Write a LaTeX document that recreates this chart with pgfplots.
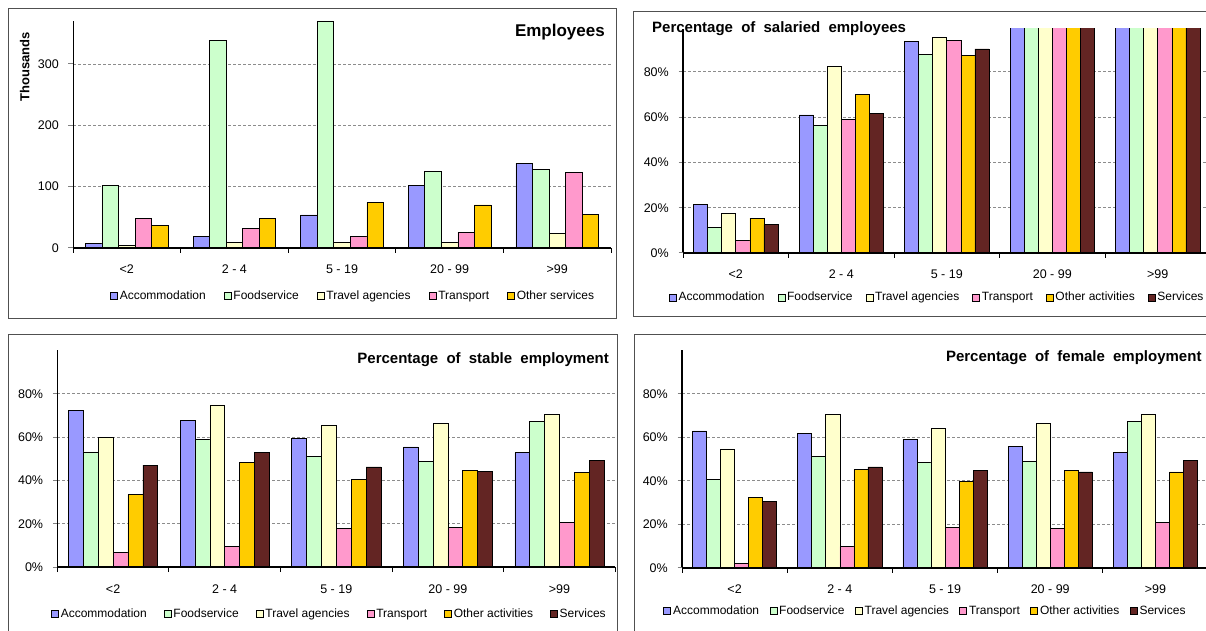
\documentclass[border=0pt]{standalone}
\usepackage{fontspec}
\setmainfont{Liberation Sans}
\usepackage{pgfplots}
\usepackage{pgfplotstable}
\pgfplotsset{compat=1.18}

\definecolor{cAcc}{HTML}{9999FF}
\definecolor{cFood}{HTML}{CCFFCC}
\definecolor{cTrav}{HTML}{FFFFCC}
\definecolor{cTran}{HTML}{FF99CC}
\definecolor{cOth}{HTML}{FFCC00}
\definecolor{cServ}{HTML}{632523}
\definecolor{panelframe}{HTML}{505050}
\definecolor{gridc}{HTML}{8C8C8C}

\newcommand\tickfont{\fontsize{12.5bp}{15bp}\selectfont}
\newcommand\legfont{\fontsize{12bp}{14bp}\selectfont}
\newcommand\titlefont{\fontsize{15bp}{18bp}\selectfont\bfseries\spaceskip=8.2bp\relax}
% base line redrawn over the bars, as the axis line sits on top of them
\newcommand\baseline{\draw[black, line width=1.6bp] (rel axis cs:0,0) -- (rel axis cs:1,0);}

% Employees (thousands) by establishment size
\pgfplotstableread{
x acc food trav tran oth
0 8 101.6 4 48.6 36.7
1 19.4 339 9.7 31.3 48.6
2 54 370 9.7 19.4 74.5
3 101.6 124.8 9.7 25.9 70.2
4 138.3 128.6 23.8 123.2 54.6
}\employees

% Percentage of salaried employees
\pgfplotstableread{
x acc food trav tran oth serv
0 21.3 11.2 17.6 5.4 15.4 12.5
1 61 56.3 82.4 59.1 70 61.8
2 93.4 87.6 95.1 94 87.1 90.1
3 100 100 100 100 100 100
4 100 100 100 100 100 100
}\salaried

% Percentage of stable employment
\pgfplotstableread{
x acc food trav tran oth serv
0 72.3 53.2 60 6.6 33.4 47.1
1 67.8 58.9 74.9 9.4 48.3 52.9
2 59.5 51.1 65.5 17.8 40.5 46.2
3 55.5 48.9 66.2 18.3 44.5 44.3
4 52.8 67.2 70.5 20.6 43.8 49.4
}\stable

% Percentage of female employment
\pgfplotstableread{
x acc food trav tran oth serv
0 62.9 40.6 54.6 2.0 32.4 30.5
1 61.8 51.2 70.6 9.7 45.1 46.3
2 59.0 48.5 64.0 18.6 39.6 44.8
3 55.7 48.9 66.3 17.9 44.6 44.0
4 52.9 67.3 70.6 20.9 44.0 49.5
}\female

\pgfplotsset{
  sqlegend/.style={legend image code/.code={\draw[##1,draw=black,line width=0.6bp] (0bp,-3.5bp) rectangle (7bp,3.5bp);}},
  panel/.style={
    scale only axis, anchor=south west,
    axis x line*=bottom, axis y line*=left,
    axis line style={black, line width=1.6bp},
    xmin=-0.5, xmax=4.5, ymin=0,
    xtick={0,1,2,3,4},
    xticklabels={<2,2 - 4,5 - 19,20 - 99,>99},
    minor xtick={-0.5,0.5,1.5,2.5,3.5,4.5},
    tick align=outside, major tick length=4.5bp, minor tick length=5bp,
    xtick style={draw=none},
    minor x tick style={draw=black, line width=1bp},
    ytick style={line width=1bp},
    ymajorgrids,
    major grid style={draw=gridc, line width=0.8bp, dash pattern=on 3bp off 2bp},
    extra y ticks={0}, extra y tick style={grid=none},
    ybar=0pt,
    every axis plot post/.append style={sqlegend},
    every axis plot/.append style={draw=black, line width=0.6bp},
    xticklabel style={font=\tickfont, anchor=base, inner sep=0pt, yshift=-21.5bp},
    yticklabel style={font=\tickfont, anchor=east, inner sep=0pt, xshift=-9.5bp},
    legend columns=-1,
    legend style={draw=none, fill=none, inner sep=0pt, anchor=west, font=\legfont,
      nodes={inner sep=1bp},
      /tikz/every odd column/.append style={column sep=1bp}},
  },
  pct/.style={ymax=#1, ytick={20,40,60,80}, yticklabels={20\%,40\%,60\%,80\%},
    extra y tick labels={0\%}},
}

\begin{document}
\begin{tikzpicture}
\path[use as bounding box] (0,0) rectangle (1206bp,631bp);
\clip (0,0) rectangle (1206bp,631bp);

% frames round the four charts
\draw[panelframe, line width=1bp] (8bp,312bp) rectangle (616bp,622bp);
\draw[panelframe, line width=1bp] (633bp,314bp) rectangle (1215bp,619bp);
\draw[panelframe, line width=1bp] (8bp,-10bp) rectangle (617bp,296bp);
\draw[panelframe, line width=1bp] (634bp,-10bp) rectangle (1215bp,296bp);

% Employees
\begin{axis}[panel, at={(73bp,383bp)}, width=538bp, height=227bp,
  ymax=370, ytick={100,200,300}, yticklabels={100,200,300},
  extra y tick labels={0},
  y axis line style={line width=1bp},
  bar width=0.1538,
  legend style={at={(0.0688,-0.2115)}, /tikz/every even column/.append style={column sep=17bp}}]
\addplot[fill=cAcc] table[x=x,y=acc]{\employees};
\addplot[fill=cFood] table[x=x,y=food]{\employees};
\addplot[fill=cTrav] table[x=x,y=trav]{\employees};
\addplot[fill=cTran] table[x=x,y=tran]{\employees};
\addplot[fill=cOth] table[x=x,y=oth]{\employees};
\legend{Accommodation,Foodservice,Travel agencies,Transport,Other services}
\baseline
\end{axis}

% Salaried employees
\begin{axis}[panel, pct=99, at={(683bp,378bp)}, width=527.5bp, height=224.2bp,
  bar width=0.1333,
  legend style={at={(-0.0271,-0.1978)}, /tikz/every even column/.append style={column sep=12bp}}]
\addplot[fill=cAcc] table[x=x,y=acc]{\salaried};
\addplot[fill=cFood] table[x=x,y=food]{\salaried};
\addplot[fill=cTrav] table[x=x,y=trav]{\salaried};
\addplot[fill=cTran] table[x=x,y=tran]{\salaried};
\addplot[fill=cOth] table[x=x,y=oth]{\salaried};
\addplot[fill=cServ] table[x=x,y=serv]{\salaried};
\legend{Accommodation,Foodservice,Travel agencies,Transport,Other activities,Services}
\baseline
\end{axis}

% Stable employment
\begin{axis}[panel, pct=100, at={(57.3bp,64bp)}, width=558bp, height=216.5bp,
  bar width=0.1333,
  legend style={at={(-0.0113,-0.2157)}, /tikz/every even column/.append style={column sep=16bp}}]
\addplot[fill=cAcc] table[x=x,y=acc]{\stable};
\addplot[fill=cFood] table[x=x,y=food]{\stable};
\addplot[fill=cTrav] table[x=x,y=trav]{\stable};
\addplot[fill=cTran] table[x=x,y=tran]{\stable};
\addplot[fill=cOth] table[x=x,y=oth]{\stable};
\addplot[fill=cServ] table[x=x,y=serv]{\stable};
\legend{Accommodation,Foodservice,Travel agencies,Transport,Other activities,Services}
\baseline
\end{axis}

% Female employment
\begin{axis}[panel, pct=100, at={(682bp,63.3bp)}, width=526bp, height=217.5bp,
  bar width=0.1333,
  legend style={at={(-0.0356,-0.1977)}, /tikz/every even column/.append style={column sep=9.5bp}}]
\addplot[fill=cAcc] table[x=x,y=acc]{\female};
\addplot[fill=cFood] table[x=x,y=food]{\female};
\addplot[fill=cTrav] table[x=x,y=trav]{\female};
\addplot[fill=cTran] table[x=x,y=tran]{\female};
\addplot[fill=cOth] table[x=x,y=oth]{\female};
\addplot[fill=cServ] table[x=x,y=serv]{\female};
\legend{Accommodation,Foodservice,Travel agencies,Transport,Other activities,Services}
\baseline
\end{axis}

% chart titles
\node[anchor=east, inner sep=0pt, font=\fontsize{17bp}{20bp}\selectfont\bfseries] at (605bp,598.5bp) {Employees};
\node[anchor=west, inner sep=0pt, font=\titlefont] at (652bp,602.7bp) {Percentage of salaried employees};
\node[anchor=east, inner sep=0pt, font=\titlefont] at (609bp,271bp) {Percentage of stable employment};
\node[anchor=east, inner sep=0pt, font=\titlefont] at (1201.7bp,273.7bp) {Percentage of female employment};
\node[rotate=90, inner sep=0pt, font=\fontsize{13bp}{15bp}\selectfont\bfseries] at (24.7bp,564.3bp) {Thousands};
\end{tikzpicture}
\end{document}
